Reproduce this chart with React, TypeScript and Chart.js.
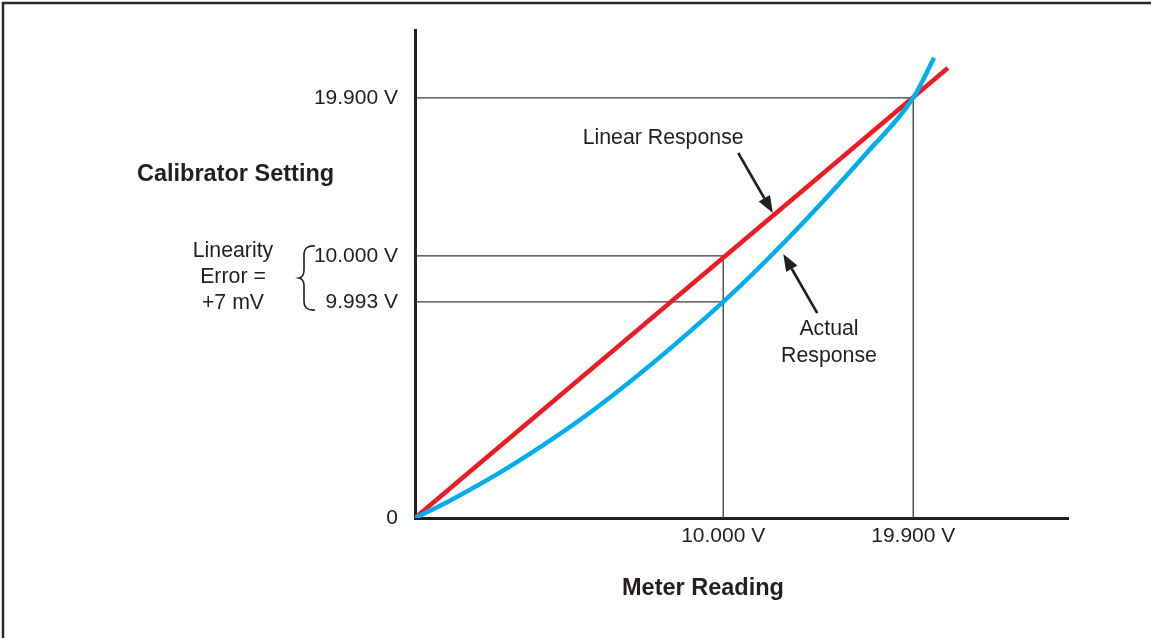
import React, { useEffect, useRef } from 'react';
import { Chart, registerables } from 'chart.js';

Chart.register(...registerables);

// Schematic axis units (0–100 along each axis); the drawing is not to scale.
const xTickValues = [47.2, 76.3];
const xTickLabels = ['10.000 V', '19.900 V'];
const yTickValues = [0, 44.3, 53.7, 86.1];
const yTickLabels = ['0', '9.993 V', '10.000 V', '19.900 V'];

const linearX = [0, 81.6];
const linearY = [0, 92.2];
const actualX = [0, 5.4, 15.3, 28.3, 47.2, 56.7, 68.9, 76.3, 79.5];
const actualY = [0, 3.6, 11.2, 23.1, 44.3, 56.7, 74.4, 86.1, 94.3];

const ref19X = [0, 76.3, 76.3];
const ref19Y = [86.1, 86.1, 0];
const ref10X = [0, 47.2, 47.2];
const ref10Y = [53.7, 53.7, 0];
const ref9993X = [0, 47.2];
const ref9993Y = [44.3, 44.3];

const FONT = "'Liberation Sans', Arial, Helvetica, sans-serif";
const INK = '#231f20';

const pts = (xs: number[], ys: number[]) => xs.map((x, i) => ({ x, y: ys[i] }));

function drawArrow(ctx: CanvasRenderingContext2D, x1: number, y1: number, x2: number, y2: number) {
  const ang = Math.atan2(y2 - y1, x2 - x1);
  const hl = 17;
  const hw = 6.5;
  const bx = x2 - hl * Math.cos(ang);
  const by = y2 - hl * Math.sin(ang);
  ctx.strokeStyle = INK;
  ctx.fillStyle = INK;
  ctx.lineWidth = 2.6;
  ctx.beginPath();
  ctx.moveTo(x1, y1);
  ctx.lineTo(bx, by);
  ctx.stroke();
  ctx.beginPath();
  ctx.moveTo(x2, y2);
  ctx.lineTo(bx + hw * Math.sin(ang), by - hw * Math.cos(ang));
  ctx.lineTo(bx - hw * Math.sin(ang), by + hw * Math.cos(ang));
  ctx.closePath();
  ctx.fill();
}

const annotations = {
  id: 'annotations',
  afterDraw(chart: any) {
    const ctx: CanvasRenderingContext2D = chart.ctx;
    const xs = chart.scales.x;
    const ys = chart.scales.y;
    const px = (v: number) => xs.getPixelForValue(v);
    const py = (v: number) => ys.getPixelForValue(v);
    ctx.save();
    // frame
    ctx.strokeStyle = '#2a2a2a';
    ctx.lineWidth = 2.5;
    ctx.beginPath();
    ctx.moveTo(3, 640);
    ctx.lineTo(3, 3);
    ctx.lineTo(1152, 3);
    ctx.stroke();

    ctx.fillStyle = INK;
    ctx.textBaseline = 'middle';
    // axis titles
    ctx.font = `bold 23.5px ${FONT}`;
    ctx.textAlign = 'left';
    ctx.fillText('Calibrator Setting', 137, 175);
    ctx.textAlign = 'center';
    ctx.fillText('Meter Reading', 703, 589);

    // labels
    ctx.font = `21.3px ${FONT}`;
    ctx.fillText('Linear Response', px(38.0), py(77.8));
    ctx.fillText('Actual', px(63.4), py(38.7));
    ctx.fillText('Response', px(63.4), py(33.2));
    ctx.fillText('Linearity', 233, 251);
    ctx.fillText('Error =', 233, 277);
    ctx.fillText('+7 mV', 233, 303);

    // brace
    ctx.strokeStyle = INK;
    ctx.lineWidth = 1.6;
    ctx.beginPath();
    ctx.moveTo(315, 246);
    ctx.quadraticCurveTo(304, 245, 304, 255);
    ctx.lineTo(304, 270);
    ctx.quadraticCurveTo(304, 277, 299, 278);
    ctx.quadraticCurveTo(304, 279, 304, 286);
    ctx.lineTo(304, 301);
    ctx.quadraticCurveTo(304, 311, 315, 310);
    ctx.stroke();

    // arrows
    drawArrow(ctx, px(49.5), py(74.8), px(54.8), py(62.5));
    drawArrow(ctx, px(61.6), py(42.0), px(56.4), py(54.1));
    ctx.restore();
  },
};

export default function App() {
  const ref = useRef<HTMLCanvasElement | null>(null);
  useEffect(() => {
    if (!ref.current) return;
    const refLine = (data: any[]) => ({
      data,
      borderColor: '#3a3a3a',
      borderWidth: 1.3,
      pointRadius: 0,
      tension: 0,
      fill: false,
    });
    const chart = new Chart(ref.current, {
      type: 'line',
      data: {
        datasets: [
          {
            label: 'Actual Response',
            data: pts(actualX, actualY),
            borderColor: '#00aeef',
            borderWidth: 4.5,
            pointRadius: 0,
            cubicInterpolationMode: 'monotone',
            fill: false,
          } as any,
          {
            label: 'Linear Response',
            data: pts(linearX, linearY),
            borderColor: '#ed1c24',
            borderWidth: 4.5,
            pointRadius: 0,
            tension: 0,
            fill: false,
          },
          refLine(pts(ref19X, ref19Y)),
          refLine(pts(ref10X, ref10Y)),
          refLine(pts(ref9993X, ref9993Y)),
        ],
      },
      options: {
        animation: false,
        responsive: false,
        maintainAspectRatio: false,
        layout: { padding: { left: 0, top: 30, right: 83, bottom: 0 } },
        plugins: { legend: { display: false }, tooltip: { enabled: false } },
        scales: {
          x: {
            type: 'linear',
            min: 0,
            max: 100,
            grid: { display: false, drawTicks: false },
            border: { display: true, color: INK, width: 3 },
            afterBuildTicks: (s: any) => {
              s.ticks = xTickValues.map((v) => ({ value: v }));
            },
            afterFit: (s: any) => {
              s.height = 120;
            },
            ticks: {
              autoSkip: false,
              maxRotation: 0,
              padding: 6,
              color: INK,
              font: { family: FONT, size: 21 },
              callback: (_v: any, i: number) => xTickLabels[i],
            },
          },
          y: {
            type: 'linear',
            min: 0,
            max: 100,
            grid: { display: false, drawTicks: false },
            border: { display: true, color: INK, width: 3 },
            afterBuildTicks: (s: any) => {
              s.ticks = yTickValues.map((v) => ({ value: v }));
            },
            afterFit: (s: any) => {
              s.width = 415;
            },
            ticks: {
              autoSkip: false,
              padding: 17,
              color: INK,
              font: { family: FONT, size: 21 },
              callback: (_v: any, i: number) => yTickLabels[i],
            },
          },
        },
      },
      plugins: [annotations],
    } as any);
    return () => chart.destroy();
  }, []);
  return (
    <div style={{ position: 'fixed', left: 0, top: 0, width: 1151, height: 638, background: '#fff' }}>
      <canvas ref={ref} width={1151} height={638} style={{ display: 'block' }} />
    </div>
  );
}
